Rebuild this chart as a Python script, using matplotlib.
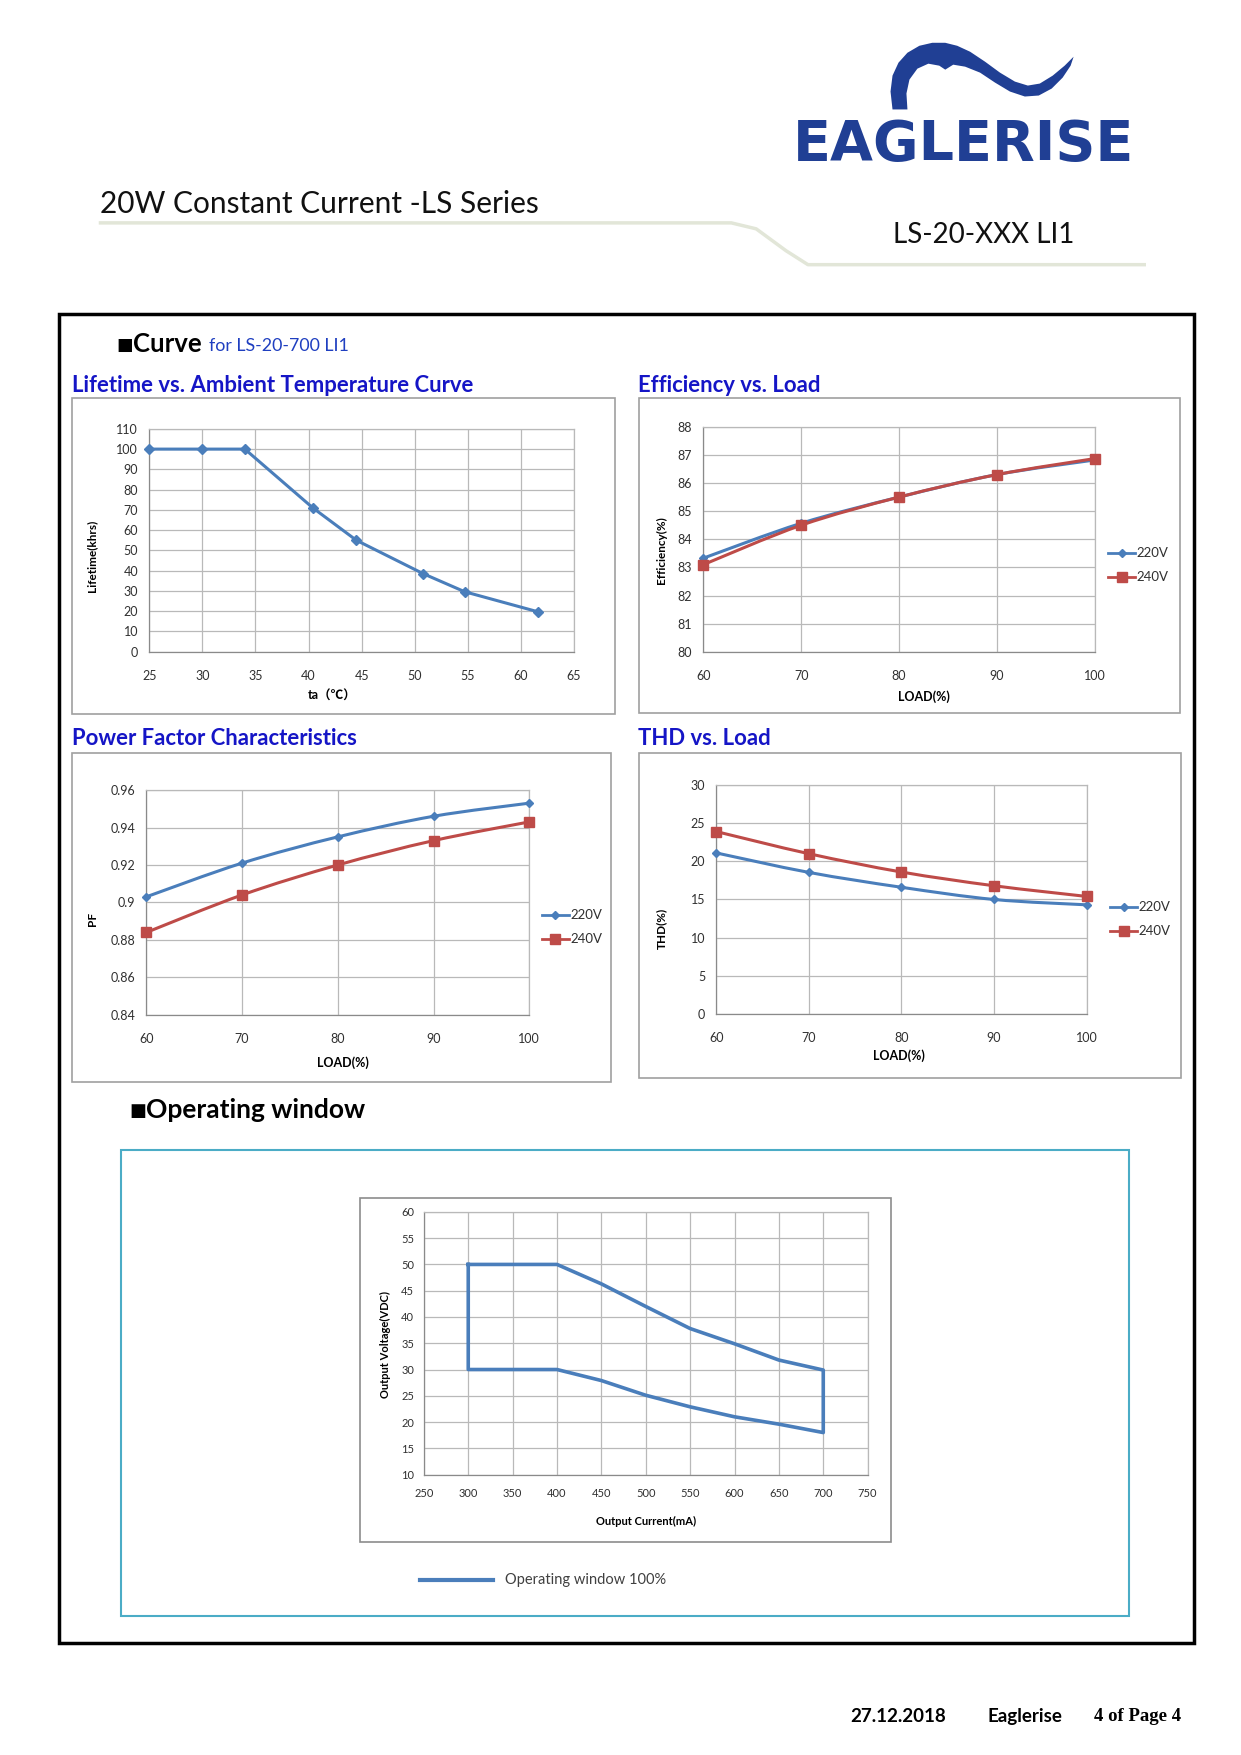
"""
Eaglerise LS-20-XXX LI1 datasheet page 4: curves and operating window
"""
import numpy as np
import matplotlib
matplotlib.use('Agg')
import matplotlib.pyplot as plt
from matplotlib.patches import Rectangle, PathPatch, Polygon
from matplotlib.path import Path
from matplotlib.lines import Line2D

# ---- data ----
life_temp = [25, 30, 34, 40.4, 44.5, 50.8, 54.7, 61.6]
life_khrs = [100, 100, 100, 71, 55, 38.5, 29.6, 19.7]

load_pct = [60, 70, 80, 90, 100]
eff_220 = [83.33, 84.57, 85.5, 86.3, 86.82]
eff_240 = [83.1, 84.5, 85.5, 86.3, 86.87]
pf_220 = [0.903, 0.921, 0.935, 0.946, 0.953]
pf_240 = [0.884, 0.904, 0.920, 0.933, 0.943]
thd_220 = [21.1, 18.55, 16.6, 15.0, 14.3]
thd_240 = [23.9, 21.0, 18.6, 16.8, 15.4]

win_current = [300, 400, 450, 500, 550, 600, 650, 700, 700, 650, 600, 550, 500, 450, 400, 300, 300]
win_voltage = [50, 50, 46.3, 42, 37.8, 34.9, 31.8, 29.9, 18, 19.6, 21, 22.9, 25.1, 27.9, 30, 30, 50]

series_names = ['220V', '240V']
pf_ticks = [0.84, 0.86, 0.88, 0.9, 0.92, 0.94, 0.96]
pf_labels = ['0.84', '0.86', '0.88', '0.9', '0.92', '0.94', '0.96']

# ---- styles ----
W, H = 1241, 1755
K = 0.995          # layout coordinates below were measured slightly too large
BLUE = '#4a7ebb'
RED = '#be4b48'
TITLE_BLUE = '#1515c6'
NAVY = '#203f94'
GRID = '#b9b9b9'
AXIS = '#8a8a8a'
SANS = ['Lato', 'DejaVu Sans']
CJK = ['Lato', 'Noto Sans CJK SC', 'DejaVu Sans']

fig = plt.figure(figsize=(W / 100, H / 100), dpi=100)
fig.patch.set_facecolor('white')


def fx(x):
    return x * K / W


def fy(y):
    return 1 - y * K / H


def fbox(x0, y0, x1, y1):
    """pixel box (top-left origin) -> figure fraction rect"""
    return [fx(x0), fy(y1), fx(x1) - fx(x0), fy(y0) - fy(y1)]


def frame(x0, y0, x1, y1, color, lw):
    r = fbox(x0, y0, x1, y1)
    fig.add_artist(Rectangle((r[0], r[1]), r[2], r[3],
                             transform=fig.transFigure, fill=False, ec=color, lw=lw))


def ftext(x, y, s, **kw):
    kw.setdefault('va', 'center')
    kw.setdefault('family', SANS)
    return fig.text(fx(x), fy(y), s, **kw)


def fline(xs, ys, **kw):
    fig.add_artist(Line2D([fx(x) for x in xs], [fy(y) for y in ys],
                          transform=fig.transFigure, **kw))


def make_axes(rect, xlim, xticks, ylim, yticks, fs=9, xpad=13, ypad=8):
    ax = fig.add_axes(fbox(*rect))
    ax.set_xlim(xlim)
    ax.set_ylim(ylim)
    ax.set_xticks(xticks)
    ax.set_yticks(yticks)
    ax.grid(True, color=GRID, lw=0.9)
    ax.set_axisbelow(True)
    for s in ax.spines.values():
        s.set_color(GRID)
        s.set_linewidth(0.9)
    ax.spines['left'].set_color(AXIS)
    ax.spines['bottom'].set_color(AXIS)
    ax.tick_params(length=0, labelsize=fs, labelcolor='#303030')
    ax.tick_params(axis='x', pad=xpad)
    ax.tick_params(axis='y', pad=ypad)
    for lab in ax.get_xticklabels() + ax.get_yticklabels():
        lab.set_family(SANS)
    return ax


def smooth_line(ax, x, y, color, lw=2.2):
    """Excel style smoothed line (Catmull-Rom as cubic Bezier)"""
    pts = np.column_stack([x, y]).astype(float)
    n = len(pts)
    verts = [pts[0]]
    codes = [Path.MOVETO]
    for i in range(n - 1):
        p0 = pts[max(i - 1, 0)]
        p1 = pts[i]
        p2 = pts[i + 1]
        p3 = pts[min(i + 2, n - 1)]
        verts += [p1 + (p2 - p0) / 6, p2 - (p3 - p1) / 6, p2]
        codes += [Path.CURVE4] * 3
    ax.add_patch(PathPatch(Path(verts, codes), fill=False, ec=color, lw=lw,
                           capstyle='round', joinstyle='round', zorder=3))


def two_series(ax, y220, y240):
    smooth_line(ax, load_pct, y220, BLUE)
    smooth_line(ax, load_pct, y240, RED)
    ax.plot(load_pct, y220, ls='none', marker='D', ms=4.5, color=BLUE, zorder=4, clip_on=False)
    ax.plot(load_pct, y240, ls='none', marker='s', ms=6.5, color=RED, zorder=4, clip_on=False)


def add_legend(x, y):
    handles = [Line2D([], [], color=BLUE, marker='D', ms=4.5, lw=2),
               Line2D([], [], color=RED, marker='s', ms=6.5, lw=2)]
    leg = fig.legend(handles, series_names, loc='upper left', bbox_to_anchor=(fx(x), fy(y)),
                     frameon=False, fontsize=9.5, handlelength=2.0, handletextpad=0.1,
                     labelspacing=0.9, borderpad=0, borderaxespad=0)
    for t in leg.get_texts():
        t.set_family(SANS)
        t.set_color('#303030')


def heading(x, y, s, fs):
    """black square bullet + bold heading"""
    ftext(x, y + 1, '■', fontsize=fs * 0.68, color='black', family=['DejaVu Sans'])
    ftext(x + fs * 0.9, y, s, fontsize=fs, weight='bold', color='black')


# ---- header ----
ftext(101, 205, '20W Constant Current -LS Series', fontsize=21.5, color='#111111')
ftext(897, 236, 'LS-20-XXX LI1', fontsize=20, color='#111111')
fline([101, 735, 760, 790, 812, 1150], [224, 224, 230, 252, 266, 266], color='#e2e6d8', lw=2.5)

# logo
ftext(797, 146, 'EAGLERISE', fontsize=40, weight='bold', color=NAVY, family=['DejaVu Sans'])
eagle = [(897, 110), (895, 92), (897, 76), (903, 63), (912, 53), (924, 46), (937, 43), (950, 43),
         (962, 46), (975, 52), (990, 62), (1005, 73), (1020, 82), (1033, 86), (1045, 84),
         (1058, 76), (1070, 66), (1079, 57), (1076, 66), (1068, 78), (1057, 89), (1044, 96),
         (1030, 97), (1015, 92), (1000, 83), (985, 73), (970, 67), (958, 65), (950, 70),
         (944, 66), (933, 64), (922, 69), (914, 80), (911, 94), (912, 110)]
fig.add_artist(Polygon([(fx(px), fy(py)) for px, py in eagle], closed=True,
                       transform=fig.transFigure, fc=NAVY, ec='none'))

# ---- page border ----
frame(59, 316, 1200, 1651, 'black', 2.5)

heading(117, 346, 'Curve', 18.5)
ftext(210, 348, 'for LS-20-700 LI1', fontsize=12.8, color='#1f3fc0')

# ---- Lifetime ----
ftext(72, 387, 'Lifetime vs. Ambient Temperature Curve', fontsize=15.9, weight='bold', color=TITLE_BLUE)
frame(72, 400, 618, 718, '#a0a0a0', 1.2)
ax = make_axes((150, 431, 577, 655), (25, 65), range(25, 66, 5), (0, 110), range(0, 111, 10))
ax.plot(life_temp, life_khrs, color=BLUE, lw=2.2, marker='D', ms=5, zorder=3, clip_on=False)
ftext(92, 559, 'Lifetime(khrs)', fontsize=8.5, weight='bold', rotation=90, ha='center')
ftext(334, 699, 'ta（℃）', fontsize=9, weight='bold', ha='center', family=CJK)

# ---- Efficiency ----
ftext(641, 387, 'Efficiency vs. Load', fontsize=15.9, weight='bold', color=TITLE_BLUE)
frame(642, 400, 1186, 717, '#a0a0a0', 1.2)
ax = make_axes((707, 429, 1100, 655), (60, 100), load_pct, (80, 88), range(80, 89))
two_series(ax, eff_220, eff_240)
add_legend(1114, 550)
ftext(665, 553, 'Efficiency(%)', fontsize=8.5, weight='bold', rotation=90, ha='center')
ftext(929, 700, 'LOAD(%)', fontsize=9, weight='bold', ha='center')

# ---- Power factor ----
ftext(72, 742, 'Power Factor Characteristics', fontsize=15.9, weight='bold', color=TITLE_BLUE)
frame(72, 757, 614, 1087, '#a0a0a0', 1.2)
ax = make_axes((147, 794, 532, 1020), (60, 100), load_pct, (0.84, 0.96), pf_ticks)
ax.set_yticklabels(pf_labels, family=SANS)
two_series(ax, pf_220, pf_240)
add_legend(545, 914)
ftext(93, 924, 'PF', fontsize=8.5, weight='bold', rotation=90, ha='center')
ftext(345, 1068, 'LOAD(%)', fontsize=9, weight='bold', ha='center')

# ---- THD ----
ftext(641, 742, 'THD vs. Load', fontsize=15.9, weight='bold', color=TITLE_BLUE)
frame(642, 757, 1187, 1083, '#a0a0a0', 1.2)
ax = make_axes((720, 789, 1092, 1019), (60, 100), load_pct, (0, 30), range(0, 31, 5))
two_series(ax, thd_220, thd_240)
add_legend(1116, 906)
ftext(665, 933, 'THD(%)', fontsize=8.5, weight='bold', rotation=90, ha='center')
ftext(903, 1061, 'LOAD(%)', fontsize=9, weight='bold', ha='center')

# ---- Operating window ----
heading(130, 1116, 'Operating window', 19)
frame(122, 1156, 1135, 1624, '#4bacc6', 1.5)
frame(362, 1204, 895, 1550, '#8c8c8c', 1.2)
ax = make_axes((426, 1218, 872, 1482), (250, 750), range(250, 751, 50), (10, 60), range(10, 61, 5),
               fs=8, xpad=10, ypad=7)
ax.plot(win_current, win_voltage, color=BLUE, lw=2.6, zorder=3)
ftext(387, 1351, 'Output Voltage(VDC)', fontsize=8, weight='bold', rotation=90, ha='center')
ftext(649, 1529, 'Output Current(mA)', fontsize=8, weight='bold', ha='center')
fline([422, 495], [1588, 1588], color=BLUE, lw=3)
ftext(508, 1588, 'Operating window 100%', fontsize=10.5, color='#404040')

# ---- footer ----
ftext(855, 1725, '27.12.2018', fontsize=13.5, weight='bold', color='black')
ftext(992, 1725, 'Eaglerise', fontsize=13.5, weight='bold', color='black')
ftext(1100, 1725, '4 of Page 4', fontsize=13.5, weight='bold', color='black',
      family=['Liberation Serif', 'DejaVu Serif'])

fig.savefig('out.png', dpi=100)
